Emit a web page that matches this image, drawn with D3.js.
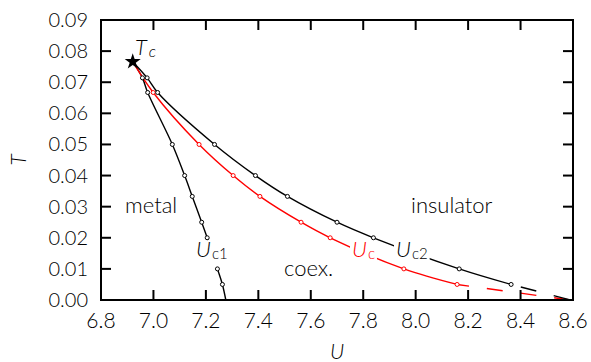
<!DOCTYPE html>
<html>
<head>
<meta charset="utf-8">
<script src="https://cdn.jsdelivr.net/npm/d3@7"></script>
<style>
  body { margin: 0; background: #fff; }
  text { font-family: Lato, "Open Sans", sans-serif; font-weight: 300; fill: #000; }
</style>
</head>
<body>
<div id="chart"></div>
<script>
// critical point
const tcU = 6.921, tcT = 0.0766;

// temperatures (1/beta) of the data points
const tUc1 = [0.0714, 0.0667, 0.05, 0.04, 0.0333, 0.025, 0.02, 0.01, 0.005];
const uUc1 = [6.958, 6.978, 7.072, 7.119, 7.148, 7.184, 7.205, 7.244, 7.263];
const uc1Zero = 7.276;

const tUc = [0.0667, 0.05, 0.04, 0.0333, 0.025, 0.02, 0.01, 0.005];
const uUc = [6.999, 7.174, 7.304, 7.406, 7.563, 7.674, 7.955, 8.158];

const tUc2 = [0.0714, 0.0667, 0.05, 0.04, 0.0333, 0.025, 0.02, 0.01, 0.005];
const uUc2 = [6.976, 7.016, 7.233, 7.389, 7.511, 7.70, 7.839, 8.166, 8.364];

// extrapolation of Uc and Uc2 down to T = 0
const ucZero = 8.59, uc2Zero = 8.59;

const xTicks = d3.range(6.8, 8.61, 0.2);
const yTicks = d3.range(0, 0.0901, 0.01);

const width = 591, height = 362;
const margin = { top: 20, right: 18, bottom: 62, left: 101 };

const svg = d3.select("#chart").append("svg")
  .attr("width", width)
  .attr("height", height);

const x = d3.scaleLinear().domain([6.8, 8.6]).range([margin.left, width - margin.right]);
const y = d3.scaleLinear().domain([0, 0.09]).range([height - margin.bottom, margin.top]);

const pts = (us, ts) => us.map((u, i) => [u, ts[i]]);

const line = d3.line()
  .x(d => x(d[0]))
  .y(d => y(d[1]))
  .curve(d3.curveCatmullRom);
const straight = d3.line().x(d => x(d[0])).y(d => y(d[1]));

// curves
const p1 = pts(uUc1, tUc1), p0 = pts(uUc, tUc), p2 = pts(uUc2, tUc2);

svg.append("path")
  .attr("d", line([[tcU, tcT], ...p1, [uc1Zero, 0]]))
  .attr("fill", "none").attr("stroke", "#000").attr("stroke-width", 1.4);
svg.append("path")
  .attr("d", line([[tcU, tcT], ...p0]))
  .attr("fill", "none").attr("stroke", "red").attr("stroke-width", 1.4);
svg.append("path")
  .attr("d", line([[tcU, tcT], ...p2]))
  .attr("fill", "none").attr("stroke", "#000").attr("stroke-width", 1.4);

svg.append("path")
  .attr("d", straight([p0[p0.length - 1], [ucZero, 0]]))
  .attr("fill", "none").attr("stroke", "red").attr("stroke-width", 1.4)
  .attr("stroke-dasharray", "16,18").attr("stroke-dashoffset", 4);
svg.append("path")
  .attr("d", straight([p2[p2.length - 1], [uc2Zero, 0]]))
  .attr("fill", "none").attr("stroke", "#000").attr("stroke-width", 1.4)
  .attr("stroke-dasharray", "16,18").attr("stroke-dashoffset", 24);

// curve labels (white box behind)
function curveLabel(x0, y0, main, sub, color, top, bottom) {
  const g = svg.append("g");
  const rect = g.append("rect").attr("fill", "#fff");
  const t = g.append("text").attr("x", x0).attr("y", y0).style("fill", color);
  t.append("tspan").attr("font-style", "italic").attr("font-size", 22).text(main);
  t.append("tspan").attr("font-size", 15).attr("dy", 2).attr("dx", 1).text(sub);
  const b = t.node().getBBox();
  rect.attr("x", b.x - 2).attr("y", y0 - top)
    .attr("width", b.width + 4).attr("height", top + bottom);
  return g;
}
curveLabel(196, 257, "U", "c1", "#000", 17, 11);
curveLabel(352, 257, "U", "c", "red", 15, 7);
curveLabel(396, 257, "U", "c2", "#000", 16, 7);

// markers
function markers(data, color) {
  svg.append("g").selectAll("circle").data(data).join("circle")
    .attr("cx", d => x(d[0])).attr("cy", d => y(d[1])).attr("r", 2)
    .attr("fill", "#fff").attr("stroke", color).attr("stroke-width", 1);
}
markers(p1, "#000");
markers(p0, "red");
markers(p2, "#000");

// Tc star
svg.append("path")
  .attr("d", d3.symbol(d3.symbolStar, 80)())
  .attr("transform", `translate(${x(tcU)},${y(tcT)})`)
  .attr("fill", "#000");
const tcl = svg.append("text").attr("x", 135).attr("y", 55);
tcl.append("tspan").attr("font-style", "italic").attr("font-size", 22).text("T");
tcl.append("tspan").attr("font-style", "italic").attr("font-size", 16).attr("dy", 2).attr("dx", 2).text("c");

// region labels
svg.append("text").attr("x", 125).attr("y", 213).attr("font-size", 22).text("metal");
svg.append("text").attr("x", 411).attr("y", 213).attr("font-size", 22).text("insulator");
svg.append("text").attr("x", 284).attr("y", 276).attr("font-size", 22).text("coex.");

// axes: frame with inward ticks on all sides
const tickLen = 10;
const axisG = svg.append("g").attr("stroke", "#000").attr("stroke-width", 2);
axisG.selectAll(".xb").data(xTicks).join("line")
  .attr("x1", d => x(d)).attr("x2", d => x(d))
  .attr("y1", y(0)).attr("y2", y(0) - tickLen);
axisG.selectAll(".xt").data(xTicks).join("line")
  .attr("x1", d => x(d)).attr("x2", d => x(d))
  .attr("y1", y(0.09)).attr("y2", y(0.09) + tickLen);
axisG.selectAll(".yl").data(yTicks).join("line")
  .attr("y1", d => y(d)).attr("y2", d => y(d))
  .attr("x1", x(6.8)).attr("x2", x(6.8) + tickLen);
axisG.selectAll(".yr").data(yTicks).join("line")
  .attr("y1", d => y(d)).attr("y2", d => y(d))
  .attr("x1", x(8.6)).attr("x2", x(8.6) - tickLen);
svg.append("rect")
  .attr("x", x(6.8)).attr("y", y(0.09))
  .attr("width", x(8.6) - x(6.8)).attr("height", y(0) - y(0.09))
  .attr("fill", "none").attr("stroke", "#000").attr("stroke-width", 2);

svg.append("g").selectAll("text").data(xTicks).join("text")
  .attr("x", d => x(d)).attr("y", y(0) + 28)
  .attr("text-anchor", "middle").attr("font-size", 21)
  .text(d => d3.format(".1f")(d));
svg.append("g").selectAll("text").data(yTicks).join("text")
  .attr("x", x(6.8) - 13).attr("y", d => y(d) + 7)
  .attr("text-anchor", "end").attr("font-size", 20)
  .text(d => d3.format(".2f")(d));

svg.append("text").attr("x", (x(6.8) + x(8.6)) / 2).attr("y", 359)
  .attr("text-anchor", "middle").attr("font-style", "italic").attr("font-size", 21).text("U");
svg.append("text").attr("transform", `translate(26,${y(0.045)}) rotate(-90)`)
  .attr("text-anchor", "middle").attr("font-style", "italic").attr("font-size", 21).text("T");
</script>
</body>
</html>
